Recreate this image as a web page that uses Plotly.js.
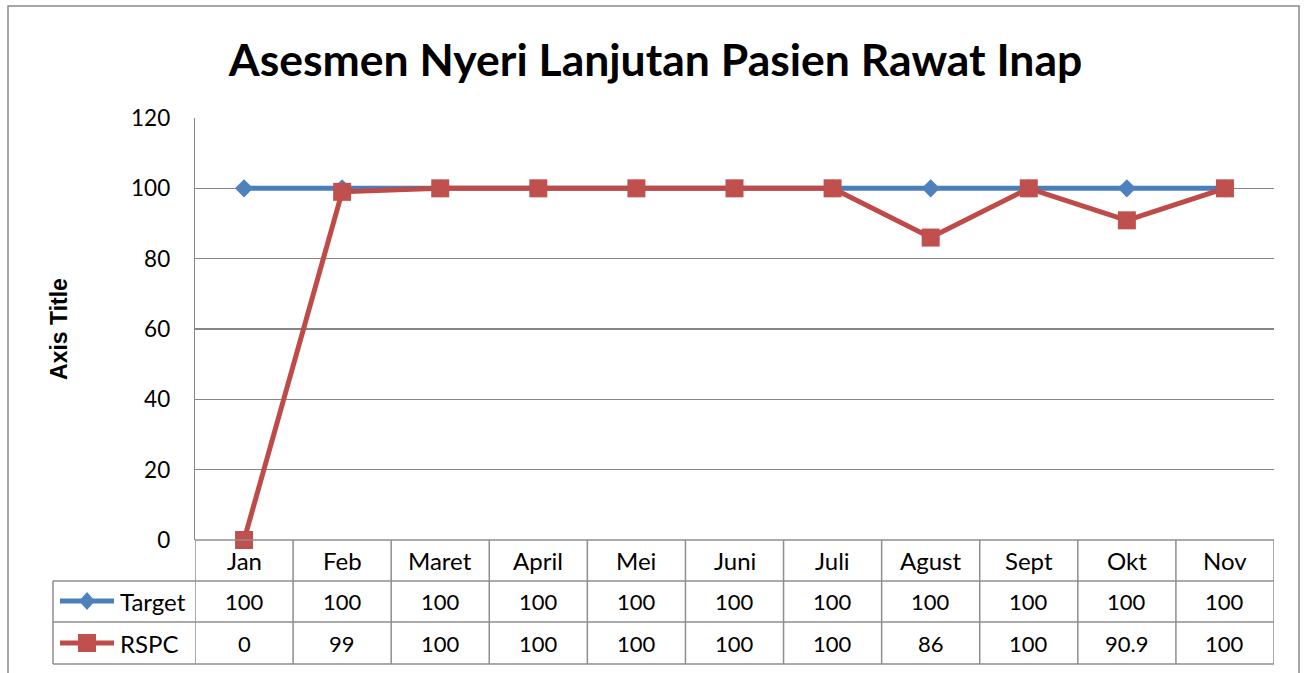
<!DOCTYPE html>
<html>
<head>
<meta charset="utf-8">
<script src="https://cdn.plot.ly/plotly-3.0.1.min.js"></script>
<style>html,body{margin:0;padding:0;background:#fff;}#chart{width:1305px;height:673px;}</style>
</head>
<body>
<div id="chart"></div>
<script>
// ---- data ----
const categories = ['Jan','Feb','Maret','April','Mei','Juni','Juli','Agust','Sept','Okt','Nov'];
const targetValues = [100,100,100,100,100,100,100,100,100,100,100];
const rspcValues = [0,99,100,100,100,100,100,86,100,90.9,100];
const seriesNames = ['Target','RSPC'];
const yTicks = [0,20,40,60,80,100,120];

// ---- layout geometry (pixels) ----
const W = 1305, H = 673;
const L = 195, R = 1274, T = 118, B = 540;
const FONT = 'Lato, "Open Sans", sans-serif';
const px = p => (p - L) / (R - L);
const py = p => (B - p) / (B - T);

const blueLine = '#4A7EBB', blueFill = '#4F81BD';
const redLine = '#BE4B48', redFill = '#C0504D';
const gridCol = '#868686', tableCol = '#8E8E8E';

const rowY = [601, 643];   // centres of value rows
const headerY = 560;

const traces = [
  {type:'scatter', mode:'lines+markers', name:seriesNames[0], x:categories, y:targetValues,
   line:{color:blueLine, width:5}, marker:{symbol:'diamond', size:14, color:blueFill, line:{width:0}}, cliponaxis:false},
  {type:'scatter', mode:'lines+markers', name:seriesNames[1], x:categories, y:rspcValues,
   line:{color:redLine, width:5}, marker:{symbol:'square', size:18, color:redFill, line:{width:0}}, cliponaxis:false}
];

const shapes = [];
// outer chart border
shapes.push({type:'rect', xref:'paper', yref:'paper', x0:px(8), x1:px(1299), y0:py(6), y1:py(700),
  line:{color:'#8A8A8A', width:1.5}, fillcolor:'rgba(0,0,0,0)', layer:'below'});
// table horizontal lines
shapes.push({type:'line', xref:'paper', yref:'paper', x0:0, x1:1, y0:py(540), y1:py(540), line:{color:tableCol, width:1.5}});
[581, 622, 664].forEach(y => shapes.push({type:'line', xref:'paper', yref:'paper', x0:px(53), x1:1, y0:py(y), y1:py(y), line:{color:tableCol, width:1.5}}));
// table vertical lines
shapes.push({type:'line', xref:'paper', yref:'paper', x0:px(53), x1:px(53), y0:py(581), y1:py(664), line:{color:tableCol, width:1.5}});
for (let i = 0; i <= categories.length; i++) {
  shapes.push({type:'line', xref:'x', yref:'paper', x0:i-0.5, x1:i-0.5, y0:py(540), y1:py(664), line:{color:tableCol, width:1.5}});
}
// legend keys
const keyX0 = 60, keyX1 = 114, keyC = 87;
shapes.push({type:'line', xref:'paper', yref:'paper', x0:px(keyX0), x1:px(keyX1), y0:py(rowY[0]), y1:py(rowY[0]), line:{color:blueLine, width:5}});
{
  const c = rowY[0], hw = 8, hh = 9;
  shapes.push({type:'path', xref:'paper', yref:'paper',
    path:`M ${px(keyC-hw)} ${py(c)} L ${px(keyC)} ${py(c-hh)} L ${px(keyC+hw)} ${py(c)} L ${px(keyC)} ${py(c+hh)} Z`,
    fillcolor:blueFill, line:{width:0}});
}
shapes.push({type:'line', xref:'paper', yref:'paper', x0:px(keyX0), x1:px(keyX1), y0:py(rowY[1]), y1:py(rowY[1]), line:{color:redLine, width:5}});
shapes.push({type:'rect', xref:'paper', yref:'paper', x0:px(keyC-9), x1:px(keyC+9), y0:py(rowY[1]-9), y1:py(rowY[1]+9),
  fillcolor:redFill, line:{width:0}});

const annotations = [];
const textFont = {family:FONT, size:24, color:'#000'};
const numFont = {family:FONT, size:22, color:'#000'};
categories.forEach((c, i) => {
  annotations.push({xref:'x', yref:'paper', x:c, y:py(headerY), text:c, showarrow:false, font:textFont, xanchor:'center', yanchor:'middle'});
  annotations.push({xref:'x', yref:'paper', x:c, y:py(rowY[0]), text:String(targetValues[i]), showarrow:false, font:numFont, xanchor:'center', yanchor:'middle'});
  annotations.push({xref:'x', yref:'paper', x:c, y:py(rowY[1]), text:String(rspcValues[i]), showarrow:false, font:numFont, xanchor:'center', yanchor:'middle'});
});
seriesNames.forEach((n, k) => {
  annotations.push({xref:'paper', yref:'paper', x:px(118), y:py(rowY[k]), text:n, showarrow:false, font:textFont, xanchor:'left', yanchor:'middle'});
});

const layout = {
  width: W, height: H,
  margin: {l: L, r: W - R, t: T, b: H - B, pad: 0},
  paper_bgcolor: '#fff', plot_bgcolor: '#fff',
  showlegend: false,
  font: {family: FONT, color: '#000'},
  title: {text: 'Asesmen Nyeri Lanjutan Pasien Rawat Inap', font: {family: FONT, size: 44.5, weight: 'bold', color: '#000'},
          x: 655.5 / W, xanchor: 'center', xref: 'container', y: 1 - 60 / H, yanchor: 'middle', yref: 'container'},
  xaxis: {type: 'category', range: [-0.5, categories.length - 0.5], showticklabels: false, showgrid: false,
          zeroline: false, showline: false, fixedrange: true},
  yaxis: {range: [0, 120], tickvals: yTicks, ticktext: yTicks.map(String), showgrid: true, gridcolor: gridCol, gridwidth: 1.3,
          showline: true, linecolor: gridCol, linewidth: 1.3, zeroline: false, ticks: '', ticklabelstandoff: 19,
          tickfont: {family: FONT, size: 22.5, color: '#000'},
          title: {text: 'Axis Title', font: {family: '"Liberation Sans", Arial, sans-serif', size: 23, weight: 'bold', color: '#000'}, standoff: 57}},
  shapes: shapes,
  annotations: annotations
};

Plotly.newPlot('chart', traces, layout, {displayModeBar: false, staticPlot: true});
</script>
</body>
</html>
